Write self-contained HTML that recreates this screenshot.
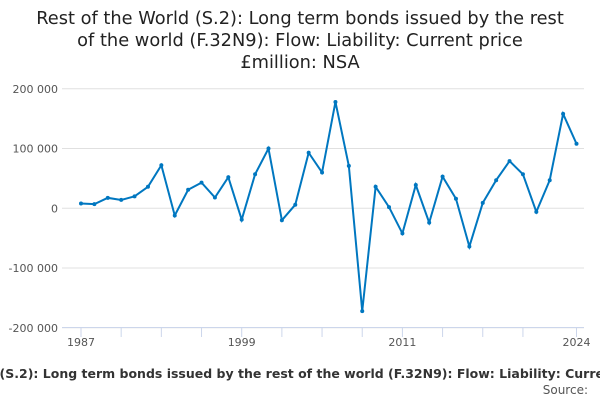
<!DOCTYPE html>
<html><head><meta charset="utf-8"><style>
body{margin:0;background:#fff;font-family:"Liberation Sans","DejaVu Sans",sans-serif;}
#wrap{position:relative;width:600px;height:400px;overflow:hidden;}
</style></head><body>
<div id="wrap">
<svg id="chart" width="600" height="400" style="position:absolute;left:0;top:0">
<text x="300" y="24" text-anchor="middle" font-size="17.8" fill="#222" font-family="DejaVu Sans,sans-serif">Rest of the World (S.2): Long term bonds issued by the rest</text>
<text x="300" y="46" text-anchor="middle" font-size="17.8" fill="#222" font-family="DejaVu Sans,sans-serif">of the world (F.32N9): Flow: Liability: Current price</text>
<text x="300" y="68" text-anchor="middle" font-size="17.8" fill="#222" font-family="DejaVu Sans,sans-serif">£million: NSA</text>
<g id="grid"></g><g id="xaxis"></g><g id="series"></g>
<text id="xtitle" x="0" y="378" text-anchor="start" font-size="12.5" font-weight="bold" fill="#333" font-family="DejaVu Sans,sans-serif"><tspan id="xpre">Rest of the World </tspan>(S.2): Long term bonds issued by the rest of the world (F.32N9): Flow: Liability: Current price £million: NSA</text>
<text x="588" y="394" text-anchor="end" font-size="12" fill="#555" font-family="DejaVu Sans,sans-serif">Source:</text>
</svg>
</div>
<script>
const years=[1987,1988,1989,1990,1991,1992,1993,1994,1995,1996,1997,1998,1999,2000,2001,2002,2003,2004,2005,2006,2007,2008,2009,2010,2011,2012,2013,2014,2015,2016,2017,2018,2019,2020,2021,2022,2023,2024];
const values=[8000,7000,17500,14000,20000,36000,72000,-12000,31000,43000,18000,52000,-19000,57000,100000,-20000,6000,93000,60000,178000,71000,-172000,36000,2000,-42000,39000,-24000,53000,16000,-64000,9000,47000,79000,57000,-6000,47000,158000,108000];
const yTicks=[200000,100000,0,-100000,-200000];
const yTickLabels=["200 000","100 000","0","-100 000","-200 000"];
const xTickYears=[1987,1990,1993,1996,1999,2002,2005,2008,2011,2014,2017,2020,2024];
const xLabelYears=[1987,1999,2011,2024];
const NS="http://www.w3.org/2000/svg";
const X0=81,X1=576.5,Y0=208.3,PX=0.0005975;
const x=y=>X0+(y-1987)*(X1-X0)/(2024-1987);
const yv=v=>Y0-v*PX;
function mk(t,a,p){const e=document.createElementNS(NS,t);for(const k in a)e.setAttribute(k,a[k]);p.appendChild(e);return e;}
try{const w=document.getElementById('xpre').getComputedTextLength();document.getElementById('xtitle').setAttribute('x',(-w-0.5).toFixed(1));}catch(e){}
const grid=document.getElementById('grid');
yTicks.forEach((v,i)=>{
 const l=mk('line',{x1:62,x2:584,y1:yv(v),y2:yv(v),stroke:'#e0e0e0','stroke-width':1},grid);
 
 
 const t=mk('text',{x:58,y:yv(v)+4,'text-anchor':'end','font-size':11,fill:'#555','font-family':'DejaVu Sans,sans-serif'},grid);
 t.textContent=yTickLabels[i];
 
 
});
const xa=document.getElementById('xaxis');
const ax=mk('line',{x1:62,x2:584,y1:327.5,y2:327.5,stroke:'#ccd6eb'},xa);


xTickYears.forEach(yr=>{
 const t=mk('line',{x1:x(yr),x2:x(yr),y1:327.5,y2:337,stroke:'#ccd6eb'},xa);
 
 
});
xLabelYears.forEach(yr=>{
 const t=mk('text',{x:x(yr),y:346,'text-anchor':'middle','font-size':11,fill:'#555','font-family':'DejaVu Sans,sans-serif'},xa);
 t.textContent=yr;
 
 
});
const s=document.getElementById('series');
const path=mk('polyline',{points:years.map((yr,i)=>x(yr)+','+yv(values[i])).join(' '),fill:'none',stroke:'#0077c0','stroke-width':2},s);


years.forEach((yr,i)=>{
 const c=mk('circle',{cx:x(yr),cy:yv(values[i]),r:2,fill:'#0077c0'},s);
 
 
});
</script>
</body></html>
